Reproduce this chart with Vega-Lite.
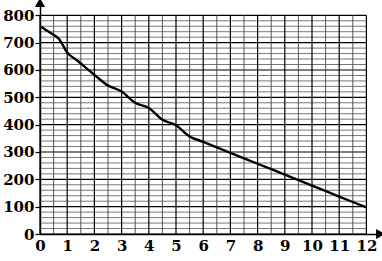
{
  "$schema": "https://vega.github.io/schema/vega-lite/v6.json",
  "width": 340,
  "height": 231,
  "autosize": {"type": "none"},
  "padding": {"left": 40, "top": 3, "right": 2, "bottom": 27},
  "background": "white",
  "config": {
    "view": {"stroke": null},
    "axis": {
      "grid": false,
      "domainColor": "black",
      "domainWidth": 1.5,
      "tickColor": "black",
      "tickWidth": 1.2,
      "labelFont": "DejaVu Serif",
      "labelFontWeight": "bold",
      "labelFontSize": 15,
      "labelColor": "black",
      "labelOverlap": false,
      "labelFlush": false,
      "labelBound": false,
      "title": null
    }
  },
  "datasets": {
    "curve": [
      {"x": 0, "y": 760}, {"x": 0.35, "y": 738}, {"x": 0.7, "y": 713}, {"x": 1.0, "y": 664},
      {"x": 1.4, "y": 632}, {"x": 2, "y": 582}, {"x": 2.5, "y": 543}, {"x": 3, "y": 521},
      {"x": 3.5, "y": 480}, {"x": 4, "y": 461}, {"x": 4.5, "y": 418}, {"x": 5, "y": 398},
      {"x": 5.5, "y": 357}, {"x": 6, "y": 337}, {"x": 7, "y": 297}, {"x": 8, "y": 257},
      {"x": 9, "y": 217}, {"x": 10, "y": 177}, {"x": 11, "y": 137}, {"x": 12, "y": 97}
    ],
    "vgrid": [
      {"u": 0}, {"u": 0.5}, {"u": 1}, {"u": 1.5}, {"u": 2}, {"u": 2.5}, {"u": 3}, {"u": 3.5},
      {"u": 4}, {"u": 4.5}, {"u": 5}, {"u": 5.5}, {"u": 6}, {"u": 6.5}, {"u": 7}, {"u": 7.5},
      {"u": 8}, {"u": 8.5}, {"u": 9}, {"u": 9.5}, {"u": 10}, {"u": 10.5}, {"u": 11}, {"u": 11.5}, {"u": 12}
    ],
    "hgrid": [
      {"v": 0}, {"v": 20}, {"v": 40}, {"v": 60}, {"v": 80}, {"v": 100}, {"v": 120}, {"v": 140},
      {"v": 160}, {"v": 180}, {"v": 200}, {"v": 220}, {"v": 240}, {"v": 260}, {"v": 280}, {"v": 300},
      {"v": 320}, {"v": 340}, {"v": 360}, {"v": 380}, {"v": 400}, {"v": 420}, {"v": 440}, {"v": 460},
      {"v": 480}, {"v": 500}, {"v": 520}, {"v": 540}, {"v": 560}, {"v": 580}, {"v": 600}, {"v": 620},
      {"v": 640}, {"v": 660}, {"v": 680}, {"v": 700}, {"v": 720}, {"v": 740}, {"v": 760}, {"v": 780}, {"v": 800}
    ],
    "arrows": [
      {"ax": 0, "ay": 845, "dir": "up"},
      {"ax": 12.5, "ay": 0, "dir": "right"}
    ]
  },
  "layer": [
    {
      "data": {"name": "hgrid"},
      "mark": {"type": "rule"},
      "encoding": {
        "y": {
          "field": "v", "type": "quantitative",
          "scale": {"domain": [0, 845], "nice": false, "zero": false},
          "axis": {"values": [0, 100, 200, 300, 400, 500, 600, 700, 800], "tickSize": 5, "labelPadding": 1}
        },
        "x": {
          "datum": 0, "type": "quantitative",
          "scale": {"domain": [0, 12.5], "nice": false, "zero": false},
          "axis": {"values": [0, 1, 2, 3, 4, 5, 6, 7, 8, 9, 10, 11, 12], "ticks": false, "labelPadding": 4}
        },
        "x2": {"datum": 12},
        "stroke": {"condition": {"test": "datum.v % 100 === 0", "value": "#000000"}, "value": "#555555"},
        "strokeWidth": {"condition": {"test": "datum.v % 100 === 0", "value": 1.2}, "value": 0.8}
      }
    },
    {
      "data": {"name": "vgrid"},
      "mark": {"type": "rule"},
      "encoding": {
        "x": {"field": "u", "type": "quantitative",
          "axis": {"values": [0, 1, 2, 3, 4, 5, 6, 7, 8, 9, 10, 11, 12], "ticks": false, "labelPadding": 4}},
        "y": {"datum": 0, "type": "quantitative",
          "axis": {"values": [0, 100, 200, 300, 400, 500, 600, 700, 800], "tickSize": 5, "labelPadding": 1}},
        "y2": {"datum": 800},
        "stroke": {"condition": {"test": "datum.u % 1 === 0", "value": "#000000"}, "value": "#444444"},
        "strokeWidth": {"condition": {"test": "datum.u % 1 === 0", "value": 1.2}, "value": 0.9}
      }
    },
    {
      "data": {"name": "curve"},
      "mark": {"type": "line", "interpolate": "monotone", "color": "black", "strokeWidth": 2.4},
      "encoding": {
        "x": {"field": "x", "type": "quantitative",
          "axis": {"values": [0, 1, 2, 3, 4, 5, 6, 7, 8, 9, 10, 11, 12], "ticks": false, "labelPadding": 4}},
        "y": {"field": "y", "type": "quantitative",
          "axis": {"values": [0, 100, 200, 300, 400, 500, 600, 700, 800], "tickSize": 5, "labelPadding": 1}}
      }
    },
    {
      "data": {"name": "arrows"},
      "mark": {"type": "point", "filled": true, "fill": "black", "stroke": "black", "size": 45, "opacity": 1, "clip": false},
      "encoding": {
        "x": {"field": "ax", "type": "quantitative",
          "axis": {"values": [0, 1, 2, 3, 4, 5, 6, 7, 8, 9, 10, 11, 12], "ticks": false, "labelPadding": 4}},
        "y": {"field": "ay", "type": "quantitative",
          "axis": {"values": [0, 100, 200, 300, 400, 500, 600, 700, 800], "tickSize": 5, "labelPadding": 1}},
        "shape": {"field": "dir", "type": "nominal", "scale": {"domain": ["up", "right"], "range": ["triangle-up", "triangle-right"]}, "legend": null}
      }
    }
  ]
}
